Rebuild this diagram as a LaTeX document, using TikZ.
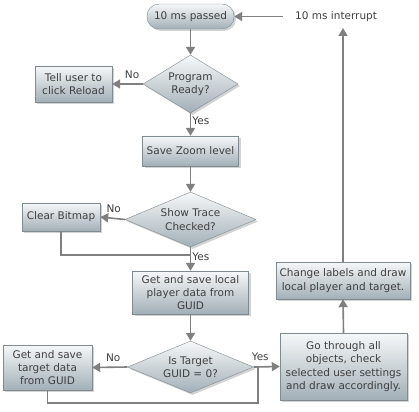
\documentclass[tikz,border=0pt]{standalone}
\usepackage{fontspec}
\setmainfont{DejaVu Sans}
\usetikzlibrary{shapes.geometric,arrows.meta,shadows}
\definecolor{boxtop}{HTML}{F6F8F9}
\definecolor{boxbot}{HTML}{A2AFB7}
\definecolor{boxline}{HTML}{7F8A91}
\definecolor{flowline}{HTML}{808080}
\definecolor{flowtext}{HTML}{404040}
\tikzset{
  box/.style={draw=boxline, top color=boxtop, bottom color=boxbot, inner sep=1pt,
    align=center, text=flowtext, font=\fontsize{10.5}{13.3}\selectfont,
    drop shadow={opacity=0.35, shadow xshift=2pt, shadow yshift=-2pt}},
  decide/.style={box, diamond, inner sep=0pt},
  flow/.style={draw=flowline, line width=1.6pt, -{Triangle[length=8pt,width=9pt]}},
  plain/.style={draw=flowline, line width=1.2pt},
  lbl/.style={text=flowtext, font=\fontsize{10.5}{13.3}\selectfont, inner sep=1pt}
}
\begin{document}
\begin{tikzpicture}[x=1pt,y=1pt,yscale=-1,xscale=1]
            \useasboundingbox (0,0) rectangle (419,411); % page size
            % Start
            \node [box, rounded corners=12pt, minimum width=87pt, minimum height=25pt] (passed) at (190.5,16.5) {10 ms passed};
            \node [lbl, anchor=west, inner sep=0pt] (int) at (295,17) {10 ms interrupt};
            \coordinate (intin) at (283,16.5); % arrow start left of text

            % Program Ready?
            \node [decide, aspect=1.64, minimum width=95pt, minimum height=58pt] (ready) at (190.5,84) {Program\\Ready?};
            \node [box, minimum width=77pt, minimum height=36pt] (tell) at (73.5,84) {Tell user to\\click Reload};

            % Zoom + trace
            \node [box, minimum width=96pt, minimum height=30pt] (zoom) at (190.5,151) {Save Zoom level};
            \node [decide, aspect=2.4, minimum width=131pt, minimum height=55pt] (trace) at (190.5,219.5) {Show Trace\\Checked?};
            \node [box, minimum width=78pt, minimum height=28pt] (clear) at (61,217) {Clear Bitmap};
            \coordinate (join1) at (190.5,255); % clear bitmap joins here

            % Player data
            \node [box, minimum width=116pt, minimum height=43pt] (local) at (190.5,292.5) {Get and save local\\player data from\\GUID};
            \node [decide, aspect=2.4, minimum width=126pt, minimum height=52pt] (target) at (190.5,367) {Is Target\\GUID = 0?};
            \node [box, minimum width=89pt, minimum height=45pt] (gett) at (47.5,367.5) {Get and save\\target data\\from GUID};
            \coordinate (join2) at (258,403); % bottom corner of loop back

            % Drawing
            \node [box, minimum width=127pt, minimum height=67pt] (go) at (343.5,366.5) {Go through all\\objects, check\\selected user settings\\and draw accordingly.};
            \node [box, minimum width=134pt, minimum height=37pt] (change) at (343,280.5) {Change labels and draw\\local player and target.};

            % Connectors
            \draw [flow] (intin) -- (passed.east);
            \draw [flow] (passed.south) -- (ready.north);
            \draw [flow] (ready.west) -- node [lbl, above=4pt, pos=0.35] {No} (tell.east);
            \draw [flow] (ready.south) -- node [lbl, right, pos=0.35] {Yes} (zoom.north);
            \draw [flow] (zoom.south) -- (trace.north);
            \draw [flow] (trace.west) -- node [lbl, above=4pt, pos=0.45] {No} (clear.east);
            \draw [flow] (trace.south) -- node [lbl, right, pos=0.4] {Yes} (local.north);
            \draw [plain] (clear.south) |- (join1);
            \draw [flow] (local.south) -- (target.north);
            \draw [flow] (target.west) -- node [lbl, above=4pt, pos=0.4] {No} (gett.east);
            \draw [flow] (target.east) -- node [lbl, above=4pt, pos=0.25] {Yes} (go.west);
            \draw [plain] (gett.south) |- (join2) -- (join2 |- target.east);
            \draw [flow] (go.north) -- (change.south);
            \draw [flow] (change.north) -- (change.north |- 0,28);
\end{tikzpicture}
\end{document}
